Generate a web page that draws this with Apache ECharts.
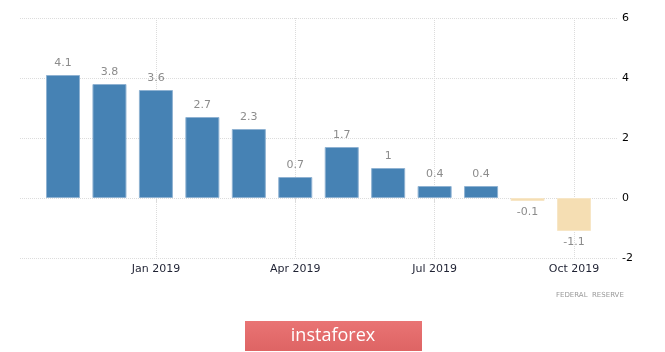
<!DOCTYPE html>
<html>
<head>
<meta charset="utf-8">
<script src="https://cdn.jsdelivr.net/npm/echarts@6/dist/echarts.min.js"></script>
<style>html,body{margin:0;padding:0;background:#fff;}#c{width:665px;height:352px;}</style>
</head>
<body>
<div id="c"></div>
<script>
var categories = ['Nov 2018','Dec 2018','Jan 2019','Feb 2019','Mar 2019','Apr 2019','May 2019','Jun 2019','Jul 2019','Aug 2019','Sep 2019','Oct 2019'];
var values = [4.1, 3.8, 3.6, 2.7, 2.3, 0.7, 1.7, 1, 0.4, 0.4, -0.1, -1.1];
var tickLabels = ['Jan 2019','Apr 2019','Jul 2019','Oct 2019'];
var yTicks = [-2, 0, 2, 4, 6];

var chart = echarts.init(document.getElementById('c'));
function showTick(i){ return tickLabels.indexOf(categories[i]) >= 0; }
var gridLine = {color:'#dcdcdc', type:[1,1], width:1};
var option = {
  animation:false,
  grid:[
    {left:20, right:48, top:18, bottom:94},
    {left:63, right:91, top:18, bottom:94}
  ],
  xAxis:[
    {gridIndex:0, type:'value', min:0, max:1, show:false},
    {gridIndex:1, type:'category', data:categories, boundaryGap:false,
     axisLine:{show:false},
     axisTick:{show:true, interval:function(i){return showTick(i);}, length:4, lineStyle:{color:'#dcdcdc'}},
     splitLine:{show:true, interval:function(i){return showTick(i);}, lineStyle:gridLine},
     axisLabel:{interval:function(i){return showTick(i);}, color:'#1f2233', fontSize:11, fontFamily:'DejaVu Sans', margin:6}
    }
  ],
  yAxis:[
    {gridIndex:0, type:'value', position:'right', min:yTicks[0], max:yTicks[yTicks.length-1], interval:2,
     axisLine:{show:false}, axisTick:{show:false},
     splitLine:{show:true, lineStyle:gridLine},
     axisLabel:{color:'#000', fontSize:11, fontFamily:'DejaVu Sans', margin:5}
    },
    {gridIndex:1, type:'value', min:yTicks[0], max:yTicks[yTicks.length-1], interval:2, show:false}
  ],
  series:[{
    type:'bar', xAxisIndex:1, yAxisIndex:1, clip:false,
    barWidth:34,
    data: values.map(function(v){
      return {value:v, itemStyle:{color: v>=0 ? '#4682B4' : '#F5DEB3', borderColor: v>=0 ? '#8fb2d2' : '#f7e6c6', borderWidth:1},
        label:{position: v>=0 ? 'top' : 'bottom'}};
    }),
    label:{show:true, color:'#8c8c8c', fontSize:11, fontFamily:'DejaVu Sans', distance:6}
  }],
  graphic:[
    {type:'text', left:556, top:292, style:{text:'FEDERAL  RESERVE', fill:'#999', font:'7px "DejaVu Sans"'}},
    {type:'rect', shape:{x:245, y:321, width:177, height:30},
     style:{fill:new echarts.graphic.LinearGradient(0,0,0,1,[{offset:0,color:'#E97474'},{offset:1,color:'#DE6464'}])}},
    {type:'text', x:333, y:336, style:{text:'instaforex', fill:'#fff', font:'18px "Open Sans"', align:'center', verticalAlign:'middle'}}
  ]
};
chart.setOption(option);
</script>
</body>
</html>
